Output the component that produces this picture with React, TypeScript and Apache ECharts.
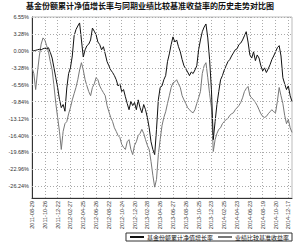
import React, { useEffect, useRef } from "react";
import * as echarts from "echarts";

const TITLE = "基金份额累计净值增长率与同期业绩比较基准收益率的历史走势对比图";
const SERIES_NAMES = ["基金份额累计净值增长率", "业绩比较基准收益率"];

const TICK_DATES = [
  "2011-08-29", "2011-10-26", "2011-12-22", "2012-02-27", "2012-04-25",
  "2012-06-26", "2012-08-22", "2012-10-24", "2012-12-20", "2013-02-28",
  "2013-04-26", "2013-06-27", "2013-08-26", "2013-10-25", "2013-12-23",
  "2014-02-25", "2014-04-23", "2014-06-23", "2014-08-19", "2014-10-20",
  "2014-12-17",
];
const TICK_STEP = 7;

const Y_TICKS = [-26.24, -22.96, -19.68, -16.4, -13.12, -9.84, -6.56, -3.28, 0, 3.28, 6.55];
const Y_MIN = -28.5;
const Y_MAX = 6.55;

const FUND = [
  0.0, 0.0, 0.1, 0.2, 0.3, 0.2, 0.4, 0.5, 0.4, 0.6,
  -0.3, -1.4, -3.3, -5.2, -7.1, -9.4, -11.0, -10.4, -11.7, -7.2,
  -4.4, -3.3, -1.0, 2.9, 4.1, 4.8, 5.4, 2.1, -1.2, 0.2,
  1.0, 1.3, 2.1, 4.4, 3.8, 3.1, 1.7, 1.2, 0.2, 0.8,
  -0.6, -2.1, -2.9, -3.7, -4.2, -4.8, -5.6, -6.8, -6.4, -7.9,
  -7.5, -8.9, -10.2, -11.4, -9.8, -10.6, -10.0, -11.4, -9.5, -11.0,
  -12.0, -10.4, -11.4, -12.9, -14.9, -17.6, -19.1, -20.1, -15.2, -9.5,
  -7.1, -6.8, -5.6, -4.8, -2.1, -0.6, 1.2, 2.7, 1.7, 2.1,
  0.8, -0.2, -1.7, -2.9, -3.5, -4.1, -4.8, -4.1, -4.4, -3.7,
  -2.9, 0.2, 2.1, 3.7, 4.6, 5.2, 2.5, -1.7, -7.5, -17.2,
  -13.7, -10.4, -7.9, -5.6, -4.8, -3.7, -2.9, -2.1, -1.7, -1.0,
  -0.4, 0.2, 0.4, 1.2, 1.5, 2.1, 2.9, 3.7, 1.7, -0.8,
  -1.4, -0.2, -1.9, -0.8, -1.4, -2.9, -3.9, -3.3, -4.2, -3.5,
  -2.7, -1.7, -1.0, -0.2, 0.6, 1.0, -1.0, -5.2, -6.4, -7.5,
  -6.8, -8.7, -9.8,
];

const BENCH = [
  -3.3, -4.4, -7.5, -4.1, -1.0, 1.3, 2.5, 2.1, 1.0, -0.2,
  -2.1, -3.7, -6.8, -10.2, -12.9, -15.6, -19.1, -15.6, -14.1, -13.7,
  -12.2, -11.0, -9.5, -8.3, -7.1, -5.6, -3.7, -2.3, -3.7, -5.6,
  -6.8, -7.9, -8.7, -7.1, -6.4, -5.2, -5.6, -6.8, -7.5, -8.1,
  -8.7, -10.6, -11.8, -12.9, -13.7, -14.9, -15.6, -16.4, -16.8, -18.1,
  -18.7, -19.1, -17.6, -17.2, -19.1, -20.1, -18.3, -17.6, -16.4, -16.0,
  -15.2, -16.0, -17.2, -18.3, -19.1, -21.4, -24.1, -26.4, -24.9, -20.1,
  -17.2, -14.5, -12.9, -11.8, -10.2, -8.7, -7.1, -6.2, -6.0, -5.6,
  -6.4, -7.1, -8.7, -9.5, -10.2, -11.0, -11.4, -11.8, -12.0, -11.4,
  -10.2, -9.1, -7.9, -4.4, -2.9, -2.3, -5.2, -8.3, -11.0, -19.5,
  -17.2, -16.0, -15.2, -14.9, -14.1, -13.7, -13.3, -13.1, -12.5, -12.2,
  -12.0, -11.4, -11.0, -10.6, -10.0, -9.1, -7.9, -7.3, -6.9, -8.7,
  -9.1, -9.5, -10.0, -10.6, -11.4, -12.2, -12.7, -12.9, -12.7, -12.2,
  -11.8, -11.4, -11.8, -12.0, -9.8, -7.1, -8.7, -10.2, -12.5, -14.1,
  -13.3, -14.9, -15.8,
];

export default function App() {
  const ref = useRef<HTMLDivElement>(null);
  useEffect(() => {
    if (!ref.current) return;
    const chart = echarts.init(ref.current, null, { renderer: "svg" });
    const categories = FUND.map((_, i) => String(i));
    const font = "Liberation Sans";
    chart.setOption({
      animation: false,
      title: {
        text: TITLE,
        left: "center",
        top: 1,
        padding: 0,
        textStyle: { fontSize: 8, fontWeight: "bold", color: "#111", fontFamily: "Noto Sans CJK SC" },
      },
      grid: { left: 32, right: 8, top: 17, bottom: 44, show: true, borderColor: "#bbb", borderWidth: 1 },
      legend: {
        bottom: 1,
        right: 8,
        orient: "horizontal",
        itemWidth: 14,
        itemHeight: 2,
        itemGap: 4,
        padding: [1, 3, 1, 3],
        borderColor: "#333",
        borderWidth: 1,
        textStyle: { fontSize: 6, color: "#111", fontFamily: "Noto Sans CJK SC", padding: [0, 0, 0, -2] },
        data: SERIES_NAMES,
      },
      xAxis: {
        type: "category",
        data: categories,
        boundaryGap: false,
        axisLine: { show: true, onZero: false, lineStyle: { color: "#333", width: 1 } },
        axisTick: { show: false },
        axisLabel: {
          interval: TICK_STEP - 1,
          rotate: 90,
          fontSize: 5.5,
          color: "#333",
          fontFamily: font,
          margin: 3,
          formatter: (v: string) => {
            const i = Number(v);
            return i % TICK_STEP === 0 ? TICK_DATES[i / TICK_STEP] ?? "" : "";
          },
        },
        splitLine: {
          show: true,
          interval: TICK_STEP - 1,
          lineStyle: { color: "#aaa", type: [1, 2], width: 1 },
        },
      },
      yAxis: {
        type: "value",
        min: Y_MIN,
        max: Y_MAX,
        axisLine: { show: true, lineStyle: { color: "#333", width: 1 } },
        axisTick: { show: false, customValues: Y_TICKS },
        splitLine: { show: false },
        axisLabel: {
          customValues: Y_TICKS,
          fontSize: 5.5,
          color: "#333",
          fontFamily: font,
          margin: 3,
          formatter: (v: number) => v.toFixed(2) + "%",
        },
      },
      series: [
        {
          name: SERIES_NAMES[0],
          type: "line",
          data: FUND,
          symbol: "none",
          z: 3,
          lineStyle: { color: "#111", width: 1 },
          itemStyle: { color: "#111" },
          markLine: {
            silent: true,
            symbol: "none",
            label: { show: false },
            lineStyle: { color: "#aaa", type: [1, 2], width: 1 },
            data: Y_TICKS.map((v) => ({ yAxis: v })),
          },
        },
        {
          name: SERIES_NAMES[1],
          type: "line",
          data: BENCH,
          symbol: "none",
          z: 2,
          lineStyle: { color: "#777", width: 1 },
          itemStyle: { color: "#777" },
        },
      ],
    });
    return () => chart.dispose();
  }, []);
  return <div ref={ref} style={{ width: 300, height: 242, position: "absolute", left: 0, top: 0 }} />;
}
